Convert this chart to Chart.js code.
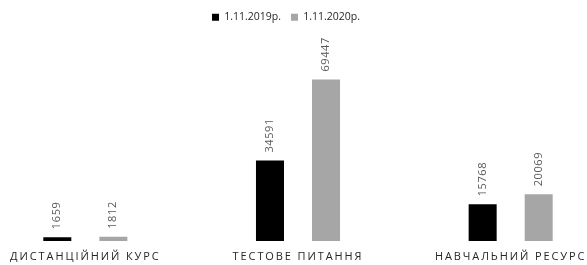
<!DOCTYPE html>
<html>
<head>
<meta charset="utf-8">
<title>Chart</title>
<script src="https://cdn.jsdelivr.net/npm/chart.js"></script>
<style>
  html, body { margin: 0; padding: 0; background: #fff; overflow: hidden; }
  #wrap { position: relative; width: 587px; height: 265px; overflow: hidden; }
  #chart { position: absolute; left: -21px; top: 0; }
</style>
</head>
<body>
<div id="wrap">
  <canvas id="chart" width="638" height="265"></canvas>
</div>
<script>
var categories = ["ДИСТАНЦІЙНИЙ КУРС", "ТЕСТОВЕ ПИТАННЯ", "НАВЧАЛЬНИЙ РЕСУРС"];
var series2019 = [1659, 34591, 15768];
var series2020 = [1812, 69447, 20069];
var seriesNames = ["1.11.2019р.", "1.11.2020р."];

// подписи значений, повернутые вертикально
var valueLabels = {
  id: 'valueLabels',
  afterDatasetsDraw: function(chart) {
    var ctx = chart.ctx;
    chart.data.datasets.forEach(function(ds, i) {
      chart.getDatasetMeta(i).data.forEach(function(bar, j) {
        ctx.save();
        ctx.translate(bar.x, bar.y - 8);
        ctx.rotate(-Math.PI / 2);
        ctx.font = '11px "Open Sans"';
        ctx.letterSpacing = '0.6px';
        ctx.fillStyle = '#595959';
        ctx.textAlign = 'left';
        ctx.textBaseline = 'middle';
        ctx.fillText(ds.data[j], 0, 0);
        ctx.restore();
      });
    });
  }
};

// подписи категорий с разрядкой
var catLabels = {
  id: 'catLabels',
  afterDraw: function(chart) {
    var ctx = chart.ctx;
    var xs = chart.scales.x;
    ctx.save();
    ctx.font = '11px "Open Sans"';
    ctx.letterSpacing = '1.9px';
    ctx.fillStyle = '#262626';
    ctx.textAlign = 'center';
    ctx.textBaseline = 'middle';
    categories.forEach(function(c, i) {
      ctx.fillText(c, xs.getPixelForTick(i), 257);
    });
    ctx.restore();
  }
};

// легенда в оригинале чуть левее центра
var legendShift = {
  id: 'legendShift',
  afterLayout: function(chart) {
    chart.legend.left -= 12;
    chart.legend.right -= 12;
  }
};

new Chart(document.getElementById('chart'), {
  type: 'bar',
  data: {
    labels: categories,
    datasets: [
      { label: seriesNames[0], data: series2019, backgroundColor: '#000000' },
      { label: seriesNames[1], data: series2020, backgroundColor: '#a6a6a6' }
    ]
  },
  options: {
    responsive: false,
    animation: false,
    layout: { padding: { top: 2, bottom: 24, left: 0, right: 0 } },
    datasets: { bar: { categoryPercentage: 0.527, barPercentage: 0.5 } },
    scales: {
      x: { display: false },
      y: { display: false, min: 0, max: 89700 }
    },
    plugins: {
      legend: {
        position: 'top',
        labels: {
          boxWidth: 7, boxHeight: 7, padding: 10,
          color: '#262626',
          font: { family: 'Open Sans', size: 10.5 }
        }
      },
      tooltip: { enabled: false }
    }
  },
  plugins: [valueLabels, catLabels, legendShift]
});
</script>
</body>
</html>
